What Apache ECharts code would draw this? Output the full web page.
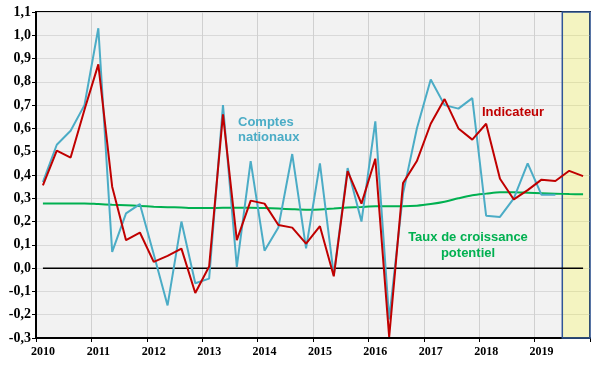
<!DOCTYPE html>
<html><head><meta charset="utf-8">
<script src="https://cdn.jsdelivr.net/npm/echarts@6/dist/echarts.min.js"></script>
<style>html,body{margin:0;padding:0;background:#fff}#c{width:600px;height:371px}</style>
</head><body><div id="c"></div>
<script>
const quarters = [
 '2010 T1','2010 T2','2010 T3','2010 T4','2011 T1','2011 T2','2011 T3','2011 T4',
 '2012 T1','2012 T2','2012 T3','2012 T4','2013 T1','2013 T2','2013 T3','2013 T4',
 '2014 T1','2014 T2','2014 T3','2014 T4','2015 T1','2015 T2','2015 T3','2015 T4',
 '2016 T1','2016 T2','2016 T3','2016 T4','2017 T1','2017 T2','2017 T3','2017 T4',
 '2018 T1','2018 T2','2018 T3','2018 T4','2019 T1','2019 T2','2019 T3','2019 T4'];
const comptesNationaux = [0.37,0.53,0.59,0.70,1.03,0.07,0.235,0.275,0.06,-0.16,0.20,-0.065,-0.045,0.70,0.005,0.46,0.075,0.175,0.49,0.085,0.45,-0.03,0.43,0.20,0.63,-0.22,0.32,0.60,0.81,0.70,0.685,0.73,0.225,0.22,0.30,0.45,0.315,0.315,null,null];
const indicateur = [0.355,0.505,0.475,0.68,0.875,0.35,0.12,0.153,0.027,0.053,0.084,-0.107,0.007,0.66,0.12,0.29,0.277,0.185,0.174,0.105,0.18,-0.035,0.417,0.277,0.47,-0.295,0.365,0.46,0.62,0.726,0.60,0.552,0.62,0.384,0.295,0.335,0.38,0.374,0.418,0.395];
const potentiel = [0.278,0.278,0.278,0.278,0.275,0.272,0.270,0.267,0.264,0.262,0.260,0.258,0.258,0.259,0.259,0.259,0.258,0.256,0.253,0.251,0.252,0.256,0.260,0.263,0.266,0.266,0.266,0.268,0.275,0.285,0.300,0.313,0.320,0.326,0.326,0.324,0.322,0.320,0.318,0.317];
const zeroLine = [0,0,0,0,0,0,0,0,0,0,0,0,0,0,0,0,0,0,0,0,0,0,0,0,0,0,0,0,0,0,0,0,0,0,0,0,0,0,0,0];
const yearLabels = ['2010','2011','2012','2013','2014','2015','2016','2017','2018','2019'];
const highlightStart = '2019 T3', highlightEnd = '2019 T4';

const chart = echarts.init(document.getElementById('c'), null, {renderer:'canvas'});
const serif = "'Liberation Serif','Times New Roman',serif";
const sans = "'Liberation Sans',Arial,sans-serif";
chart.setOption({
  animation:false,
  backgroundColor:'#ffffff',
  grid:{left:36,right:10,top:12,bottom:33,show:true,backgroundColor:'#f2f2f2',borderColor:'#000',borderWidth:2},
  xAxis:[{
    type:'category', data:quarters, boundaryGap:true,
    axisLine:{show:true,onZero:false,lineStyle:{color:'#000',width:2}},
    axisTick:{show:true,interval:3,length:4,lineStyle:{color:'#000',width:1}},
    axisLabel:{interval:3,formatter:v=>yearLabels[quarters.indexOf(v)/4],fontFamily:serif,fontWeight:'bold',fontSize:12,color:'#000',margin:8},
    splitLine:{show:true,interval:3,lineStyle:{color:'#d0d0d0',width:1}}
  },{
    type:'value', min:0, max:quarters.length, show:false
  }],
  yAxis:{
    type:'value', min:-0.3, max:1.1, interval:0.1,
    axisLine:{show:true,lineStyle:{color:'#000',width:2}},
    axisTick:{show:true,length:4,lineStyle:{color:'#000',width:1}},
    axisLabel:{formatter:v=>{const x=Math.abs(v)<1e-9?0:v;return x.toFixed(1).replace('.',',');},fontFamily:serif,fontWeight:'bold',fontSize:14,color:'#000',margin:5},
    splitLine:{show:true,lineStyle:{color:'#d9d9d9',width:1}}
  },
  series:[
    {name:'zero',type:'line',data:zeroLine,symbol:'none',lineStyle:{color:'#000',width:1.5},z:1,silent:true},
    {name:'Taux de croissance potentiel',type:'line',data:potentiel,symbol:'none',smooth:0.3,lineStyle:{color:'#00b050',width:2},z:2},
    {name:'Comptes nationaux',type:'line',data:comptesNationaux,symbol:'none',lineStyle:{color:'#4bacc6',width:2},z:3},
    {name:'Indicateur',type:'line',data:indicateur,symbol:'none',lineStyle:{color:'#c00000',width:2},z:4},
    {name:'prevision',type:'line',xAxisIndex:1,data:[],z:10,silent:true,
     markArea:{silent:true,itemStyle:{color:'rgba(255,255,0,0.2)',borderColor:'#2f5597',borderWidth:1.5,opacity:1},
       data:[[{xAxis:quarters.indexOf(highlightStart)},{xAxis:quarters.indexOf(highlightEnd)+1}]]}}
  ],
  graphic:[
    {type:'text',left:238,top:115,z:20,style:{text:'Comptes\nnationaux',fill:'#4bacc6',font:'bold 13px '+sans,lineHeight:15}},
    {type:'text',left:482,top:106,z:20,style:{text:'Indicateur',fill:'#c00000',font:'bold 13px '+sans}},
    {type:'text',x:468,y:229,z:20,style:{text:'Taux de croissance\npotentiel',fill:'#00b050',font:'bold 13px '+sans,textAlign:'center',lineHeight:16}}
  ]
});
</script></body></html>
